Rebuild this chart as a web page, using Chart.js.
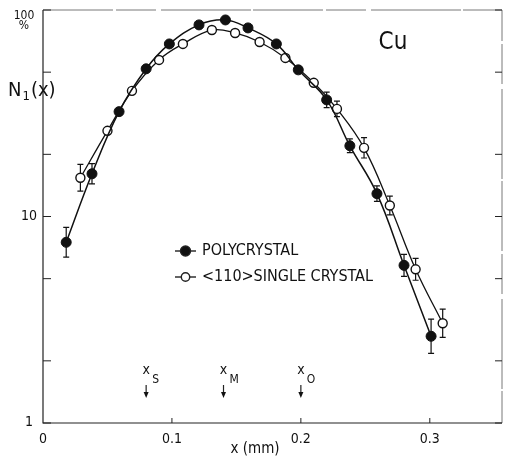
<!DOCTYPE html>
<html>
<head>
<meta charset="utf-8">
<style>
  html, body { margin: 0; padding: 0; background: #fff; }
  #wrap { width: 508px; height: 460px; }
</style>
<script src="https://cdn.jsdelivr.net/npm/chart.js@4"></script>
</head>
<body>
<div id="wrap"><canvas id="chart" width="508" height="460"></canvas></div>
<script>
// polycrystal (filled circles)
const polyX = [0.018, 0.038, 0.059, 0.080, 0.098, 0.121, 0.1415, 0.159, 0.181, 0.198, 0.220, 0.238, 0.259, 0.280, 0.301];
const polyY = [7.5, 16.1, 32.2, 51.9, 68.5, 84.7, 89.5, 81.9, 68.5, 51.3, 36.7, 22.0, 12.9, 5.8, 2.63];
const polyErr = [18, 12, 0, 0, 0, 0, 0, 0, 0, 0, 9, 8, 9, 13, 21]; // +/- percent, 0 = no bar

// <110> single crystal (open circles)
const singleX = [0.029, 0.050, 0.069, 0.090, 0.1085, 0.131, 0.149, 0.168, 0.188, 0.210, 0.228, 0.249, 0.269, 0.289, 0.310];
const singleY = [15.4, 26.0, 40.6, 57.3, 68.5, 80.0, 77.4, 70.0, 58.6, 44.4, 33.2, 21.5, 11.3, 5.55, 3.04];
const singleErr = [16, 0, 0, 0, 0, 0, 0, 0, 0, 0, 9, 12, 11, 13, 17];

const yTicks = [1, 2, 5, 10, 20, 50, 100];
const yLabels = ['1', '', '', '10', '', '', '100'];
const xTicks = [0, 0.1, 0.2, 0.3];
const xLabels = ['0', '0.1', '0.2', '0.3'];
const arrowX = [0.08, 0.14, 0.20];
const arrowSub = ['S', 'M', 'O'];

const FONT = '"Liberation Sans Narrow", "DejaVu Sans Condensed", "Liberation Sans", sans-serif';

const toPts = (xs, ys) => xs.map((x, i) => ({ x: x, y: ys[i] }));

const decor = {
  id: 'decor',
  beforeDatasetsDraw(chart) {
    const c = chart.ctx, xs = chart.scales.x, ys = chart.scales.y;
    c.save();
    c.strokeStyle = '#111';
    c.lineWidth = 1.2;
    [[polyX, polyY, polyErr], [singleX, singleY, singleErr]].forEach(([X, Y, E]) => {
      X.forEach((x, i) => {
        if (!E[i]) return;
        const f = 1 + E[i] / 100;
        const px = xs.getPixelForValue(x);
        const top = ys.getPixelForValue(Y[i] * f);
        const bot = ys.getPixelForValue(Y[i] / f);
        c.beginPath();
        c.moveTo(px, top); c.lineTo(px, bot);
        c.moveTo(px - 3, top); c.lineTo(px + 3, top);
        c.moveTo(px - 3, bot); c.lineTo(px + 3, bot);
        c.stroke();
      });
    });
    c.restore();
  },
  afterDraw(chart) {
    const c = chart.ctx, a = chart.chartArea, xs = chart.scales.x, ys = chart.scales.y;
    c.save();
    c.strokeStyle = '#222';
    c.fillStyle = '#111';
    // frame
    c.lineWidth = 1.2;
    c.beginPath();
    c.moveTo(a.left, a.top); c.lineTo(a.left, a.bottom); c.lineTo(a.right, a.bottom);
    c.stroke();
    c.strokeStyle = '#555';
    c.lineWidth = 0.8;
    c.setLineDash([70, 3, 40, 5, 90, 2]);
    c.beginPath();
    c.moveTo(a.left, a.top); c.lineTo(a.right, a.top); c.lineTo(a.right, a.bottom);
    c.stroke();
    c.setLineDash([]);
    c.strokeStyle = '#222';
    // y ticks, both sides, inward
    c.lineWidth = 1;
    yTicks.forEach((v, i) => {
      const py = ys.getPixelForValue(v);
      c.beginPath();
      c.moveTo(a.left, py); c.lineTo(a.left + 8, py);
      c.moveTo(a.right, py); c.lineTo(a.right - 7, py);
      c.stroke();
    });
    c.textAlign = 'right';
    c.textBaseline = 'middle';
    c.font = '14px ' + FONT;
    c.fillText(yLabels[3], a.left - 6, ys.getPixelForValue(10));
    c.fillText(yLabels[0], a.left - 10, ys.getPixelForValue(1) - 1);
    c.font = '12px ' + FONT;
    c.textAlign = 'center';
    c.fillText(yLabels[6], 24, ys.getPixelForValue(100) + 6);
    c.fillText('%', 24, ys.getPixelForValue(100) + 16);
    // x ticks
    c.textBaseline = 'middle';
    c.font = '14px ' + FONT;
    xTicks.forEach((v, i) => {
      const px = xs.getPixelForValue(v);
      if (v > 0) {
        c.beginPath();
        c.moveTo(px, a.bottom); c.lineTo(px, a.bottom - 5);
        c.stroke();
      }
      c.fillText(xLabels[i], px, a.bottom + 16);
    });
    c.font = '15px ' + FONT;
    c.fillText('x (mm)', 255, a.bottom + 26);
    // y title N1(x)
    c.textAlign = 'left';
    c.textBaseline = 'alphabetic';
    c.font = '20px ' + FONT;
    c.fillText('N', 8, 96);
    let w = c.measureText('N').width;
    c.font = '13px ' + FONT;
    c.fillText('1', 8 + w + 1, 100);
    const w1 = c.measureText('1').width;
    c.font = '20px ' + FONT;
    c.fillText('(x)', 8 + w + w1 + 2, 96);
    // Cu
    c.font = '24px ' + FONT;
    c.textAlign = 'center';
    c.fillText('Cu', 393, 49);
    // arrows xS, xM, xO
    arrowX.forEach((v, i) => {
      const px = xs.getPixelForValue(v);
      c.font = '14px ' + FONT;
      c.textAlign = 'center';
      c.fillText('x', px, 374);
      c.font = '12px ' + FONT;
      c.textAlign = 'left';
      c.fillText(arrowSub[i], px + 6, 383);
      c.lineWidth = 1.2;
      c.beginPath();
      c.moveTo(px, 385); c.lineTo(px, 394);
      c.stroke();
      c.beginPath();
      c.moveTo(px - 2.5, 392); c.lineTo(px + 2.5, 392); c.lineTo(px, 398);
      c.closePath();
      c.fill();
    });
    // legend
    const rows = [['POLYCRYSTAL', true, 251], ['<110>SINGLE CRYSTAL', false, 277]];
    rows.forEach(([label, filled, py]) => {
      c.lineWidth = 1.4;
      c.beginPath();
      c.moveTo(175, py); c.lineTo(196, py);
      c.stroke();
      c.beginPath();
      c.arc(185.5, py, filled ? 5 : 4.2, 0, Math.PI * 2);
      c.fillStyle = filled ? '#111' : '#fff';
      c.fill();
      c.stroke();
      c.fillStyle = '#111';
      c.font = '16px ' + FONT;
      c.textAlign = 'left';
      c.textBaseline = 'middle';
      c.fillText(label, 202, py);
    });
    c.restore();
  }
};

new Chart(document.getElementById('chart').getContext('2d'), {
  type: 'line',
  data: {
    datasets: [
      {
        label: 'POLYCRYSTAL',
        data: toPts(polyX, polyY),
        borderColor: '#111',
        borderWidth: 1.5,
        pointRadius: 5,
        pointBackgroundColor: '#111',
        pointBorderColor: '#111',
        pointBorderWidth: 1,
        tension: 0.4,
        fill: false
      },
      {
        label: '<110>SINGLE CRYSTAL',
        data: toPts(singleX, singleY),
        borderColor: '#111',
        borderWidth: 1.3,
        pointRadius: 4.5,
        pointBackgroundColor: '#fff',
        pointBorderColor: '#111',
        pointBorderWidth: 1.4,
        tension: 0.4,
        fill: false
      }
    ]
  },
  options: {
    responsive: false,
    animation: false,
    layout: { padding: { left: 43, right: 3, top: 10, bottom: 37 } },
    scales: {
      x: { type: 'linear', min: 0, max: 0.356, display: false },
      y: { type: 'logarithmic', min: 1, max: 100, display: false }
    },
    plugins: {
      legend: { display: false },
      tooltip: { enabled: false }
    }
  },
  plugins: [decor]
});
</script>
</body>
</html>
